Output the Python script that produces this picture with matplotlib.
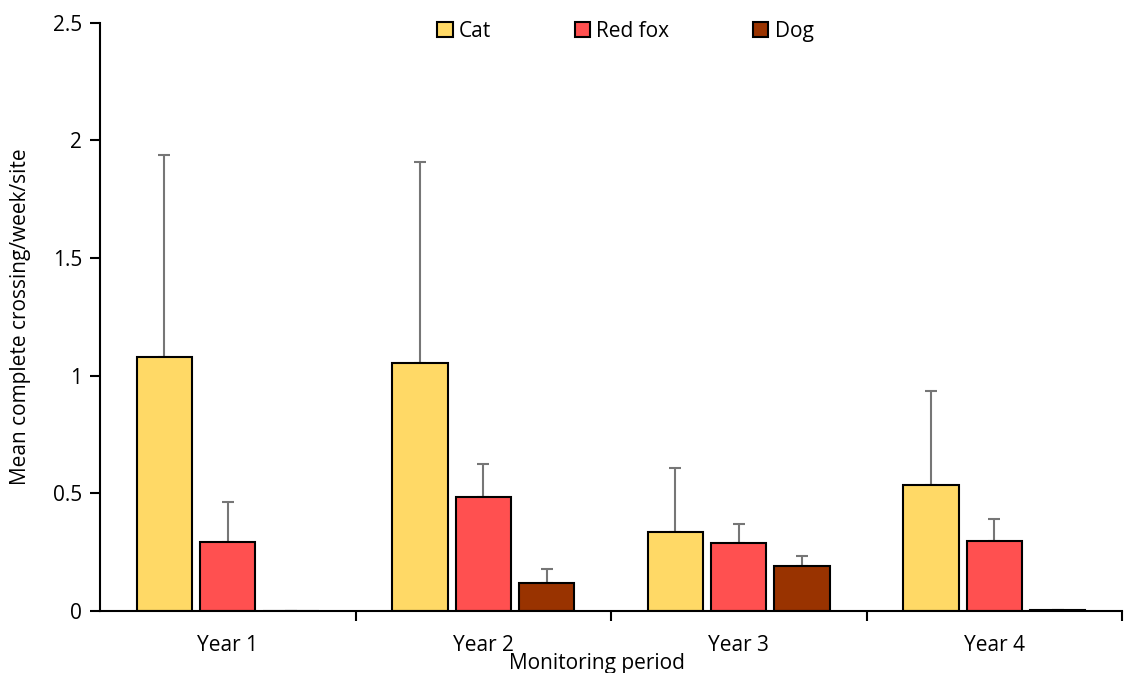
import matplotlib.pyplot as plt
import numpy as np

# mean complete crossings per week per site, with upper error (SE top)
periods = ["Year 1", "Year 2", "Year 3", "Year 4"]
species = ["Cat", "Red fox", "Dog"]
cat_mean = [1.081, 1.054, 0.334, 0.535]
cat_top = [1.938, 1.908, 0.606, 0.935]
fox_mean = [0.295, 0.483, 0.288, 0.299]
fox_top = [0.463, 0.623, 0.370, 0.391]
dog_mean = [0.001, 0.120, 0.193, 0.003]
dog_top = [0.001, 0.180, 0.235, 0.003]
colours = ["#FFD966", "#FF5050", "#993300"]

plt.rcParams['font.family'] = ['Open Sans', 'DejaVu Sans']
fs = 15

fig = plt.figure(figsize=(11.24, 6.73), dpi=100)
ax = fig.add_axes([100 / 1124, 1 - 611 / 673, 1022 / 1124, (611 - 22.7) / 673])

x = np.arange(len(periods))
offset = 0.248
width = 0.217

means = [cat_mean, fox_mean, dog_mean]
tops = [cat_top, fox_top, dog_top]
for i in range(3):
    pos = x + (i - 1) * offset
    m = np.array(means[i])
    t = np.array(tops[i])
    ax.errorbar(pos, m, yerr=[np.zeros_like(m), t - m], fmt="none",
                ecolor="#767676", elinewidth=1.5, capsize=4.3, capthick=1.5, zorder=1)
    ax.bar(pos, m, width=width, color=colours[i], edgecolor="black",
           linewidth=1.5, label=species[i], zorder=2)

ax.set_ylim(0, 2.5)
ax.set_yticks([0, 0.5, 1, 1.5, 2, 2.5])
ax.set_yticklabels(["0", "0.5", "1", "1.5", "2", "2.5"])
ax.set_xlim(-0.5, 3.465)
ax.set_xticks(x)
ax.set_xticklabels(periods)
ax.tick_params(axis="x", which="major", length=0, labelsize=fs, pad=17)
ax.set_xticks([0.5, 1.5, 2.5, 3.5], minor=True)
ax.tick_params(axis="x", which="minor", length=7, width=1.5, direction="out")
ax.tick_params(axis="y", length=7, width=1.5, labelsize=fs, pad=6)

for s in ["top", "right"]:
    ax.spines[s].set_visible(False)
for s in ["left", "bottom"]:
    ax.spines[s].set_linewidth(1.5)

ax.set_ylabel("Mean complete crossing/week/site", fontsize=fs)
ax.yaxis.set_label_coords(-0.0675, 0.5)
ax.set_xlabel("Monitoring period", fontsize=fs)
ax.xaxis.set_label_coords(0.486, -0.071)

ax.legend(loc="upper center", bbox_to_anchor=(0.514, 1.035), ncol=3, frameon=False,
          fontsize=fs, handlelength=0.75, handleheight=0.75, handletextpad=0.3,
          columnspacing=4.0)

fig.savefig("out.png", dpi=100)
